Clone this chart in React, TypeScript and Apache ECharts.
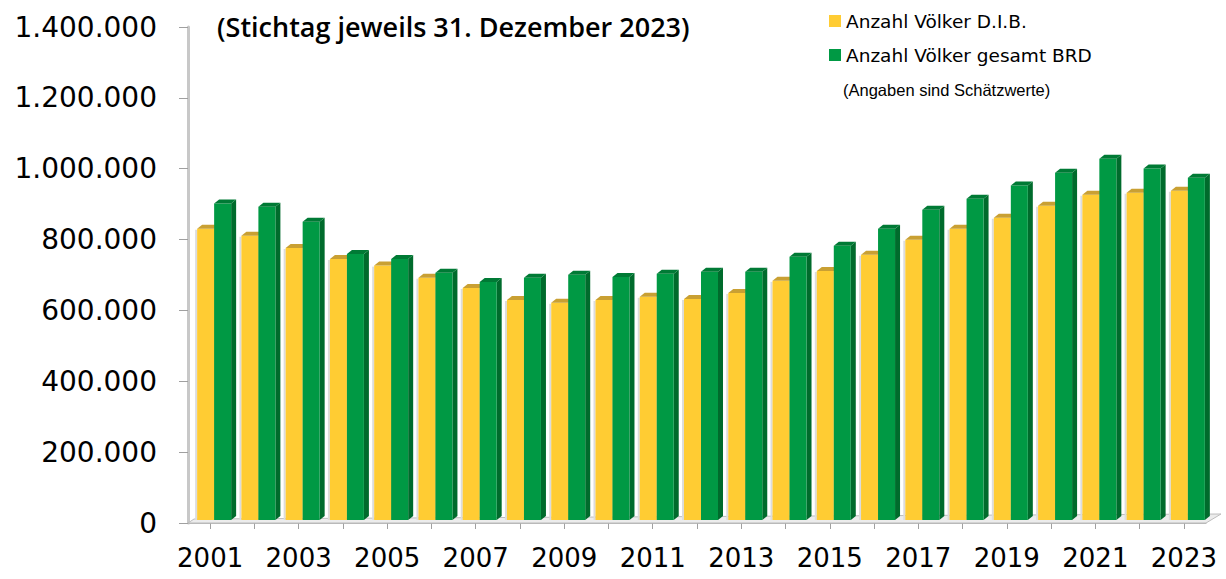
import React, { useEffect, useRef } from "react";
import * as echarts from "echarts";

const years = [
  "2001", "2002", "2003", "2004", "2005", "2006", "2007", "2008", "2009", "2010", "2011", "2012",
  "2013", "2014", "2015", "2016", "2017", "2018", "2019", "2020", "2021", "2022", "2023",
];

// Anzahl Völker D.I.B.
const dibValues = [
  822000, 802000, 768000, 737000, 718000, 684000, 655000, 621000, 613000, 621000, 630000, 624000,
  641000, 675000, 703000, 749000, 791000, 822000, 853000, 887000, 918000, 924000, 929000,
];

// Anzahl Völker gesamt BRD
const brdValues = [
  893000, 884000, 842000, 751000, 737000, 698000, 672000, 684000, 692000, 686000, 695000, 701000,
  701000, 743000, 774000, 822000, 876000, 907000, 944000, 980000, 1020000, 992000, 966000,
];

const yTicks = { min: 0, max: 1400000, interval: 200000 };

const seriesNames = ["Anzahl Völker D.I.B.", "Anzahl Völker gesamt BRD"];
const titleText = "(Stichtag jeweils 31. Dezember 2023)";
const noteText = "(Angaben sind Schätzwerte)";

const fmt = (v: number) => String(v).replace(/\B(?=(\d{3})+(?!\d))/g, ".");

function makeBarRenderer(off0: number, off1: number, front: string, top: string, side: string, shadow: boolean) {
  return (params: any, api: any) => {
    const idx = api.value(0);
    const v = api.value(1);
    const p = api.coord([idx, v]);
    const b = api.coord([idx, 0]);
    const bw = api.size([1, 0])[0];
    const s = bw / 44.26;
    const x0 = p[0] + off0 * s;
    const x1 = p[0] + off1 * s;
    const yT = p[1] - 3;
    const yB = b[1] - 3;
    const dx = 5;
    const dy = 4;
    const children: any[] = [];
    if (shadow) {
      children.push({
        type: "rect",
        shape: { x: x0 - 2, y: yT + 1, width: 2, height: yB - yT - 1 },
        style: { fill: "#dcdcdc" },
      });
    }
    children.push({
      type: "polygon",
      shape: { points: [[x1, yT], [x1 + dx, yT - dy], [x1 + dx, yB - dy], [x1, yB]] },
      style: { fill: side },
    });
    children.push({
      type: "rect",
      shape: { x: x0, y: yT, width: x1 - x0, height: yB - yT },
      style: { fill: front },
    });
    children.push({
      type: "polygon",
      shape: { points: [[x0, yT], [x1, yT], [x1 + dx, yT - dy], [x0 + dx, yT - dy]] },
      style: { fill: top },
    });
    return { type: "group", children };
  };
}

function floorRenderer(params: any, api: any) {
  const cs = params.coordSys;
  const x = cs.x;
  const y = cs.y + cs.height;
  const w = cs.width;
  return {
    type: "group",
    children: [
      {
        type: "polygon",
        shape: { points: [[x, y], [x + w, y], [x + w + 15, y - 9], [x + 6, y - 4]] },
        style: { fill: "#ececec", stroke: "#bdbdbd", lineWidth: 1 },
      },
    ],
  };
}

export default function App() {
  const ref = useRef<HTMLDivElement>(null);
  useEffect(() => {
    if (!ref.current) return;
    const chart = echarts.init(ref.current, null, { renderer: "svg" });
    chart.setOption({
      animation: false,
      backgroundColor: "#ffffff",
      title: [
        {
          text: titleText,
          left: 217,
          top: 13,
          padding: 0,
          textStyle: { fontFamily: "Open Sans", fontWeight: 600, fontSize: 27, color: "#000" },
        },
        {
          text: noteText,
          left: 843,
          top: 81,
          padding: 0,
          textStyle: { fontFamily: "Liberation Sans", fontWeight: "normal", fontSize: 16.5, color: "#000" },
        },
      ],
      legend: {
        orient: "vertical",
        left: 829,
        top: 11,
        padding: 0,
        itemWidth: 12,
        itemHeight: 12,
        itemGap: 14,
        icon: "rect",
        data: seriesNames,
        textStyle: { fontFamily: "DejaVu Sans", fontSize: 18.5, color: "#000", lineHeight: 20 },
      },
      grid: { left: 188, right: 20, top: 27, bottom: 56, containLabel: false },
      xAxis: {
        type: "category",
        data: years,
        boundaryGap: true,
        axisLine: { show: true, lineStyle: { color: "#b5b5b5", width: 1 } },
        axisTick: { show: true, alignWithLabel: true, interval: 0, length: 6, lineStyle: { color: "#a0a0a0" } },
        axisLabel: {
          interval: 1,
          margin: 22,
          fontFamily: "DejaVu Sans",
          fontSize: 26,
          color: "#000",
        },
        splitLine: { show: false },
      },
      yAxis: {
        type: "value",
        min: yTicks.min,
        max: yTicks.max,
        interval: yTicks.interval,
        axisLine: { show: true, lineStyle: { color: "#c8c8c8", width: 3 } },
        axisTick: { show: true, length: 9, lineStyle: { color: "#a0a0a0" } },
        axisLabel: {
          margin: 31,
          fontFamily: "DejaVu Sans",
          fontSize: 28,
          color: "#000",
          formatter: (v: number) => fmt(v),
        },
        splitLine: { show: false },
      },
      series: [
        {
          type: "custom",
          name: "floor",
          silent: true,
          z: 1,
          data: [[0, 0]],
          renderItem: floorRenderer,
          encode: { x: 0, y: 1 },
        },
        {
          type: "custom",
          name: seriesNames[0],
          z: 2,
          itemStyle: { color: "#FFCC33" },
          data: years.map((_, i) => [i, dibValues[i]]),
          encode: { x: 0, y: 1 },
          renderItem: makeBarRenderer(-13, 4, "#FFCC33", "#C9A033", "#D9A81F", true),
        },
        {
          type: "custom",
          name: seriesNames[1],
          z: 3,
          itemStyle: { color: "#009944" },
          data: years.map((_, i) => [i, brdValues[i]]),
          encode: { x: 0, y: 1 },
          renderItem: makeBarRenderer(4, 21, "#009944", "#007A35", "#006B2C", false),
        },
      ],
    });
    return () => chart.dispose();
  }, []);
  return <div ref={ref} style={{ position: "absolute", left: 0, top: 0, width: 1226, height: 579 }} />;
}
